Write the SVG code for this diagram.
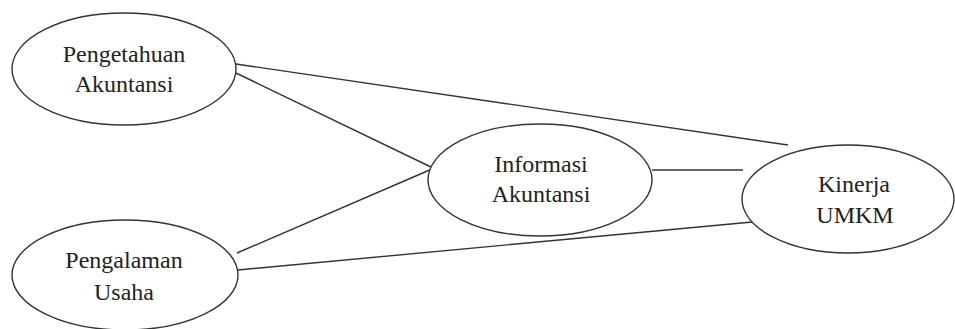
<svg xmlns="http://www.w3.org/2000/svg" width="955" height="329" viewBox="0 0 955 329">
<style>
.node ellipse{fill:#fff;stroke:#333;stroke-width:1.4}
.node text{font-family:"Liberation Serif","Times New Roman",serif;font-size:24px;fill:#222;text-anchor:middle}
#connectors line{stroke:#333;stroke-width:1.4}
</style>
<rect width="955" height="329" fill="#fff"/>
<g id="connectors">
<line x1="236" y1="64" x2="788" y2="145"/>
<line x1="236" y1="73" x2="433" y2="168"/>
<line x1="237" y1="253" x2="432" y2="169"/>
<line x1="652" y1="170" x2="743" y2="170"/>
<line x1="238" y1="270" x2="763" y2="221"/>
</g>
<g id="n-pengetahuan" class="node">
<ellipse cx="124" cy="69" rx="112" ry="56"/>
<text x="124" y="62">Pengetahuan</text>
<text x="124" y="92">Akuntansi</text>
</g>
<g id="n-pengalaman" class="node">
<ellipse cx="125" cy="275" rx="113" ry="55"/>
<text x="124" y="268">Pengalaman</text>
<text x="124" y="300">Usaha</text>
</g>
<g id="n-informasi" class="node">
<ellipse cx="540" cy="180" rx="112" ry="56"/>
<text x="541" y="172">Informasi</text>
<text x="541" y="202">Akuntansi</text>
</g>
<g id="n-kinerja" class="node">
<ellipse cx="848" cy="199" rx="106" ry="54"/>
<text x="854" y="192">Kinerja</text>
<text x="855" y="223">UMKM</text>
</g>
</svg>
